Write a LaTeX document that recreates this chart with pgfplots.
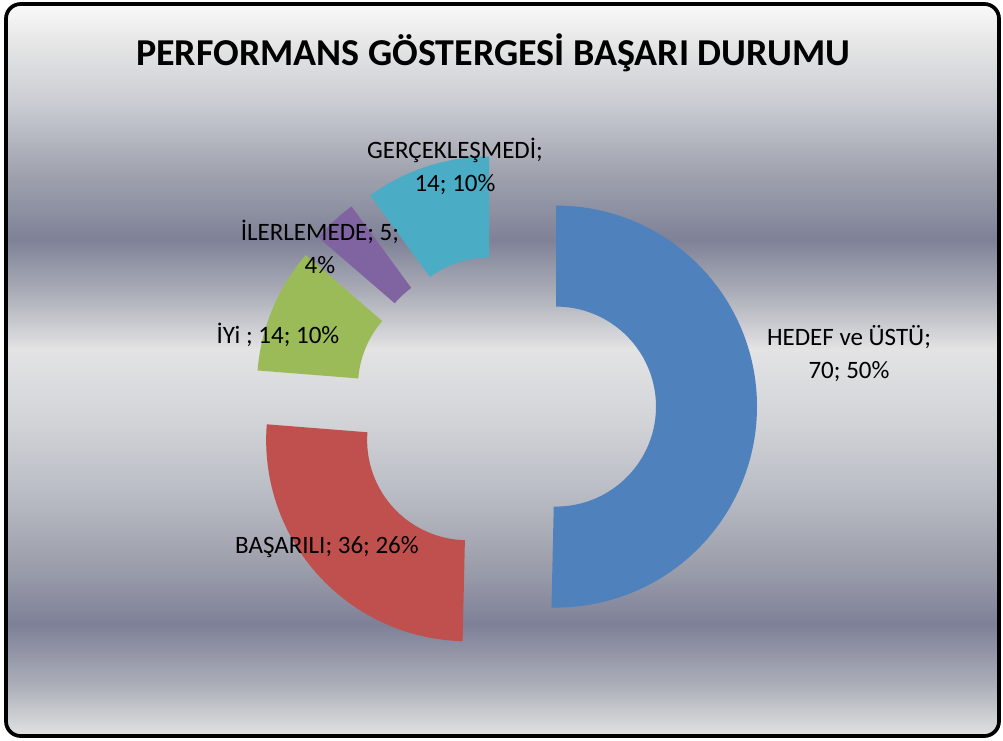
\documentclass[border=0pt]{standalone}
\usepackage{pgfplots}
\pgfplotsset{compat=1.18}
\usepackage{pgfplotstable}
\usepackage{fontspec}
\setmainfont{Carlito}

\definecolor{seg0}{HTML}{4F81BD}
\definecolor{seg1}{HTML}{C0504D}
\definecolor{seg2}{HTML}{9BBB59}
\definecolor{seg3}{HTML}{8064A2}
\definecolor{seg4}{HTML}{4BACC6}

\definecolor{g0}{HTML}{FAFAFA}
\definecolor{g1}{HTML}{E6E6E6}
\definecolor{g2}{HTML}{C9CCD2}
\definecolor{g3}{HTML}{A0A3AE}
\definecolor{g4}{HTML}{7F8297}
\definecolor{g5}{HTML}{A9ACB6}
\definecolor{g6}{HTML}{E3E3E4}
\definecolor{g7}{HTML}{D2D4D8}
\definecolor{g8}{HTML}{B7BAC2}
\definecolor{g9}{HTML}{9B9EAA}
\definecolor{g10}{HTML}{7E8098}
\definecolor{g11}{HTML}{ADB0B9}
\definecolor{g12}{HTML}{E2E2E2}

\pgfdeclareverticalshading{bgshade}{100bp}{%
color(0bp)=(g12); color(25bp)=(g12); color(28.4bp)=(g11); color(32.6bp)=(g10);
color(36.5bp)=(g9); color(41.2bp)=(g8); color(46.6bp)=(g7); color(51.4bp)=(g6);
color(55.4bp)=(g5); color(58.9bp)=(g4); color(63.5bp)=(g3); color(68.2bp)=(g2);
color(72.3bp)=(g1); color(75bp)=(g0); color(100bp)=(g0)}

\pgfplotstableread[col sep=comma]{
label,value
HEDEF,70
BASARILI,36
IYI,14
ILERLEMEDE,5
GERCEKLESMEDI,14
}\piedata

% geometry in pixel units (1 px = 0.75pt)
\def\cx{505}
\def\cy{334}
\def\Rout{150.75pt}
\def\Rin{75pt}
\def\explode{51}

\xdef\total{0}
\pgfplotstableforeachcolumnelement{value}\of\piedata\as\v{%
  \pgfmathparse{\total+\v}\xdef\total{\pgfmathresult}}

\xdef\cum{0}
\foreach \i in {0,...,4}{%
  \pgfplotstablegetelem{\i}{value}\of\piedata
  \pgfmathsetmacro\ta{\cum/\total*360}%
  \pgfmathsetmacro\tb{(\cum+\pgfplotsretval)/\total*360}%
  \pgfmathsetmacro\tm{(\ta+\tb)/2}%
  \pgfmathsetmacro\ox{\cx+\explode*sin(\tm)}%
  \pgfmathsetmacro\oy{\cy+\explode*cos(\tm)}%
  \pgfmathsetmacro\pa{90-\ta}%
  \pgfmathsetmacro\pb{90-\tb}%
  \pgfmathsetmacro\pbb{270-\tb}%
  \pgfmathsetmacro\newcum{\cum+\pgfplotsretval}%
  \expandafter\xdef\csname ox\i\endcsname{\ox}%
  \expandafter\xdef\csname oy\i\endcsname{\oy}%
  \expandafter\xdef\csname pa\i\endcsname{\pa}%
  \expandafter\xdef\csname pb\i\endcsname{\pb}%
  \expandafter\xdef\csname pbb\i\endcsname{\pbb}%
  \xdef\cum{\newcum}%
}

\begin{document}
\begin{tikzpicture}
\begin{axis}[scale only axis, width=752.25pt, height=555pt,
  xmin=0, xmax=1003, ymin=0, ymax=740, hide axis, clip=false]
\path (axis cs:0,0) rectangle (axis cs:1003,740);
\shade[shading=bgshade, rounded corners=11pt] (axis cs:6,4) rectangle (axis cs:999,736);
\draw[line width=2.8pt, rounded corners=11pt] (axis cs:6,4) rectangle (axis cs:999,736);

\pgfplotsinvokeforeach{0,...,4}{%
  \fill[seg#1] (axis cs:\csname ox#1\endcsname,\csname oy#1\endcsname)
    ++(\csname pa#1\endcsname:\Rout)
    arc[start angle=\csname pa#1\endcsname, end angle=\csname pb#1\endcsname, radius=\Rout]
    -- ++(\csname pbb#1\endcsname:75.75pt)
    arc[start angle=\csname pb#1\endcsname, end angle=\csname pa#1\endcsname, radius=\Rin]
    -- cycle;
}

\node[font=\fontsize{28.5}{34}\bfseries\selectfont] at (axis cs:493,687) {PERFORMANS GÖSTERGESİ BAŞARI DURUMU};

\begin{scope}[every node/.style={font=\fontsize{18.75}{24.75}\selectfont, align=center, text=black}]
\node at (axis cs:455,573.5) {GERÇEKLEŞMEDİ;\\14; 10\%};
\node at (axis cs:320,493.5) {İLERLEMEDE; 5;\\4\%};
\node at (axis cs:278,405) {İYi ; 14; 10\%};
\node at (axis cs:327,193) {BAŞARILI; 36; 26\%};
\node at (axis cs:849,386.5) {HEDEF ve ÜSTÜ;\\70; 50\%};
\end{scope}
\end{axis}
\end{tikzpicture}
\end{document}
